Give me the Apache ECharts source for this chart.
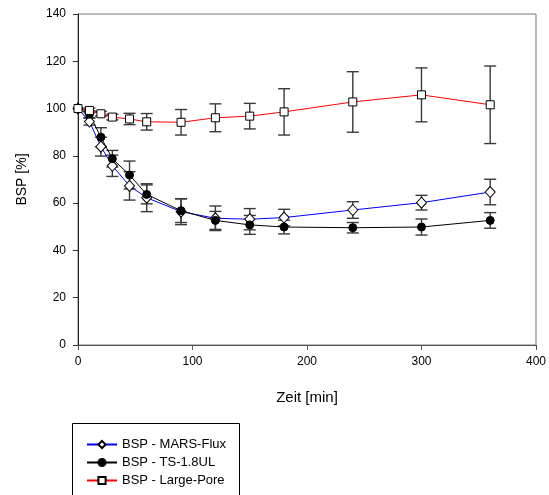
<!DOCTYPE html>
<html>
<head>
<meta charset="utf-8">
<script src="https://cdn.jsdelivr.net/npm/echarts@6/dist/echarts.min.js"></script>
<style>html,body{margin:0;padding:0;background:#fff}#c{width:549px;height:495px}</style>
</head>
<body>
<div id="c"></div>
<script>
const times = [0, 10, 20, 30, 45, 60, 90, 120, 150, 180, 240, 300, 360];
const marsFlux = [100, 94.5, 83.9, 75.8, 67.3, 62.3, 56.4, 53.6, 53.2, 53.9, 57.1, 60.2, 64.7];
const marsFluxErr = [0, 1.5, 4, 4.5, 6, 5.9, 5.5, 5.2, 4.5, 3.5, 3.5, 3.1, 5.4];
const ts18 = [100, 97.6, 87.9, 78.8, 71.9, 63.7, 56.8, 52.7, 50.8, 49.9, 49.6, 49.9, 52.7];
const ts18Err = [0, 1.5, 4, 3.5, 5.9, 4, 5, 3.8, 4, 2.9, 2.2, 3.4, 3.3];
const largePore = [100, 99.2, 97.8, 96.4, 95.6, 94.4, 94.2, 96.1, 96.8, 98.6, 102.8, 105.8, 101.6];
const largePoreErr = [0, 1, 1, 1.2, 2.4, 3.5, 5.4, 5.9, 5.4, 9.8, 12.8, 11.4, 16.4];
const xTicks = [0, 100, 200, 300, 400];
const yTicks = [0, 20, 40, 60, 80, 100, 120, 140];
const names = ['BSP - MARS-Flux', 'BSP - TS-1.8UL', 'BSP - Large-Pore'];

const font = 'Liberation Sans, Arial, sans-serif';
function errData(vals, errs) { return times.map((t, i) => [t, vals[i], errs[i]]); }
function renderErr(params, api) {
  const x = api.value(0), y = api.value(1), e = api.value(2);
  if (!e) return null;
  const top = api.coord([x, y + e]), bot = api.coord([x, y - e]);
  const w = 6;
  const st = { stroke: '#3a3a3a', lineWidth: 1.4 };
  return { type: 'group', children: [
    { type: 'line', shape: { x1: top[0], y1: top[1], x2: bot[0], y2: bot[1] }, style: st },
    { type: 'line', shape: { x1: top[0] - w, y1: top[1], x2: top[0] + w, y2: top[1] }, style: st },
    { type: 'line', shape: { x1: bot[0] - w, y1: bot[1], x2: bot[0] + w, y2: bot[1] }, style: st }
  ]};
}
function errSeries(vals, errs) {
  return { type: 'custom', renderItem: renderErr, data: errData(vals, errs), z: 1, silent: true,
    encode: { x: 0, y: 1 } };
}
function lineSeries(name, vals, color, symbol, size, fill) {
  return { type: 'line', name: name, data: times.map((t, i) => [t, vals[i]]), z: 3,
    symbol: symbol, symbolSize: size, showAllSymbol: true,
    lineStyle: { color: color, width: 1 },
    itemStyle: { color: fill, borderColor: '#000', borderWidth: 1 } };
}
function legendFor(name, top) {
  return { data: [name], orient: 'vertical', left: 86, top: top, padding: 0,
    itemWidth: 30, itemHeight: 9, selectedMode: false,
    textStyle: { fontFamily: font, fontSize: 13, color: '#000' } };
}
const chart = echarts.init(document.getElementById('c'), null, { renderer: 'canvas' });
chart.setOption({
  animation: false,
  backgroundColor: '#fff',
  grid: { left: 78, right: 11, top: 14, bottom: 150, show: true, borderColor: '#777', borderWidth: 1 },
  xAxis: { type: 'value', min: 0, max: 400, interval: 100,
    name: 'Zeit [min]', nameLocation: 'middle', nameGap: 45,
    nameTextStyle: { fontFamily: font, fontSize: 15, color: '#000' },
    axisLine: { lineStyle: { color: '#555', width: 1 } },
    axisTick: { show: true, length: 5, lineStyle: { color: '#555' } },
    axisLabel: { fontFamily: font, fontSize: 12, color: '#000', margin: 11 },
    splitLine: { show: false } },
  yAxis: { type: 'value', min: 0, max: 140, interval: 20,
    name: 'BSP [%]', nameLocation: 'middle', nameGap: 49, nameRotate: 90,
    nameTextStyle: { fontFamily: font, fontSize: 14, color: '#000' },
    axisLine: { show: true, lineStyle: { color: '#222', width: 1 } },
    axisTick: { show: true, length: 5, lineStyle: { color: '#333' } },
    axisLabel: { fontFamily: font, fontSize: 12, color: '#000', margin: 12 },
    splitLine: { show: false } },
  legend: [legendFor(names[0], 438), legendFor(names[1], 456), legendFor(names[2], 474)],
  graphic: [{ type: 'rect', left: 72, top: 423, z: -1, silent: true,
    shape: { width: 167, height: 100 },
    style: { fill: '#fff', stroke: '#000', lineWidth: 1 } }],
  series: [
    errSeries(marsFlux, marsFluxErr),
    errSeries(ts18, ts18Err),
    errSeries(largePore, largePoreErr),
    lineSeries(names[0], marsFlux, '#0000ff', 'diamond', [10, 11], '#fff'),
    lineSeries(names[1], ts18, '#000000', 'circle', 8, '#000'),
    lineSeries(names[2], largePore, '#ff0000', 'rect', 8, '#fff')
  ]
});
</script>
</body>
</html>
